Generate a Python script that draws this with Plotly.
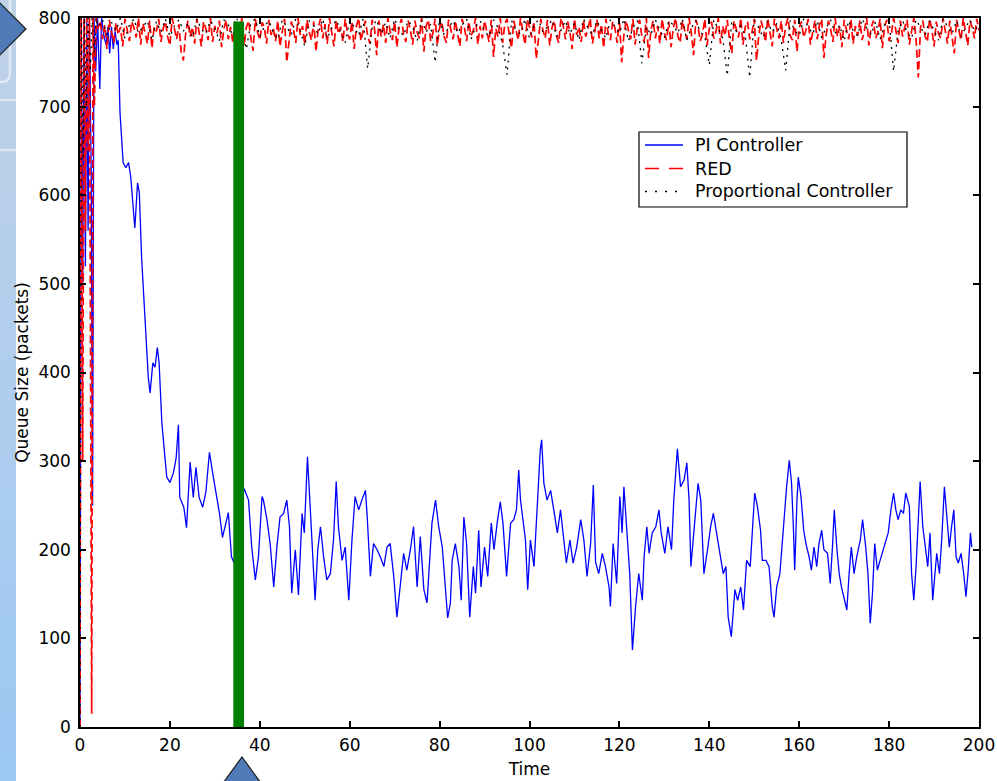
import numpy as np
import plotly.graph_objects as go

# ---------------------------------------------------------------------------
# Queue length (packets) versus simulation time (s)
# ---------------------------------------------------------------------------

# PI controller
pi_time = [
    0, 0.3, 0.6, 0.9, 1.2, 1.5, 1.8, 2.1, 2.5, 2.8,
    3.1, 3.5, 3.9, 4.4, 4.8, 5.3, 5.8, 6.2, 6.6, 7.0,
    7.4, 7.8, 8.2, 8.5,
    8.9, 9.3, 9.6, 10.2, 10.8, 11.3, 11.9, 12.2, 12.8, 13.2,
    13.7, 14.2, 14.7, 15.2, 15.6, 16.2, 16.7, 17.2, 17.6, 18.2,
    18.9, 19.3, 20.0, 20.8, 21.4, 21.9, 22.2, 23.1, 23.7, 24.5,
    25.2, 25.8, 26.5, 27.3, 28.0, 28.8, 29.5, 30.3, 31.0, 31.7,
    32.5, 33.0, 33.7, 34.3, 35.0, 35.8, 36.5,
    37.5, 38.2, 39.0, 39.7, 40.5, 40.8, 41.6, 42.3, 43.1, 43.8,
    44.5, 45.3, 46.0, 46.6, 47.1, 47.9, 48.6, 49.4, 49.9, 50.6,
    51.2, 52.0, 52.3, 52.9, 53.5, 54.2, 54.9, 55.7, 56.4, 57.0,
    57.5, 58.3, 59.0, 59.8, 60.5, 61.2, 62.0, 62.7, 63.5, 63.9,
    64.6, 65.3, 66.1, 66.8, 67.6, 68.3, 69.0, 69.8, 70.5, 71.3,
    72.0, 72.7, 73.5, 74.2,
    75.0, 75.7, 76.5, 77.2, 78.0, 78.3, 79.1, 79.8, 80.6, 81.3,
    81.8, 82.4, 82.8, 83.5, 84.3, 84.8, 85.4, 86.0, 86.7, 87.5,
    88.0, 88.7, 89.2, 90.0, 90.7, 91.5, 92.1, 92.8, 93.5, 94.1,
    94.9, 95.8, 96.5, 97.1, 97.6, 98.0, 98.6, 99.1, 99.6, 100.2,
    101.0, 101.8, 102.4, 102.7, 103.2, 103.9, 104.7, 105.4, 106.2, 106.9,
    107.6, 108.2, 109.0, 109.7, 110.5, 111.4, 112.1, 112.8, 113.6, 114.2,
    114.7,
    115.4, 116.2, 116.9, 117.7, 118.0, 118.6, 119.4, 120.1, 120.6, 121.0,
    121.6, 122.3, 122.9, 123.6, 124.3, 125.1, 125.5, 126.1, 126.6, 127.3,
    128.1, 128.8, 129.3, 130.1, 130.8, 131.6, 132.1, 132.9, 133.6, 134.4,
    135.0, 135.5, 135.9, 136.6, 137.5, 138.1, 138.8, 139.6, 140.3, 140.9,
    141.6, 142.4, 143.1, 143.7, 144.2, 144.9, 145.7, 146.3, 147.0, 147.6,
    148.3, 149.1, 149.6, 150.1, 150.7, 151.4, 151.8, 152.6, 153.3, 154.0,
    154.4, 155.0, 155.7,
    156.6, 157.2, 157.8, 158.3, 158.7, 159.0, 159.5, 159.8, 160.4, 161.0,
    161.5, 162.2, 162.7, 163.3, 163.9, 164.4, 165.0, 165.5, 166.3, 166.9,
    167.4, 167.8, 168.4, 168.9, 169.4, 170.0, 170.6, 171.1, 171.6, 172.2,
    172.8, 173.6, 174.1, 174.8, 175.3, 175.8, 176.3, 176.8, 177.4, 178.0,
    178.5, 179.3, 179.8, 180.4, 181.0, 181.5, 182.0, 182.6, 183.2, 183.7,
    184.5, 185.0, 185.5, 186.0, 186.5, 186.9, 187.5, 188.0, 188.6, 189.1,
    189.7, 190.2, 190.6, 191.2, 191.7, 192.3, 192.9, 193.4, 193.9, 194.4,
    194.9, 195.4, 196.0, 196.6, 197.1, 197.6, 198.1, 198.4,
]
pi_queue = [
    0, 800, 500, 800, 520, 800, 560, 800, 620, 250,
    800, 740, 800, 720, 800, 780, 770, 790, 760, 790,
    765, 785, 770, 775,
    693, 659, 637, 631, 637, 620, 580, 563, 614, 603,
    530, 485, 439, 394, 377, 411, 406, 428, 411, 344,
    304, 282, 276, 287, 304, 341, 259, 248, 225, 299,
    259, 293, 259, 248, 265, 310, 287, 265, 242, 214,
    231, 242, 192, 185, 230, 250, 269,
    256, 203, 166, 192, 260, 256, 234, 207, 158, 203,
    237, 241, 256, 226, 151, 200, 149, 241, 219, 305,
    249, 166, 143, 200, 226, 192, 166, 173, 211, 277,
    226, 188, 203, 143, 211, 260, 245, 256, 267, 237,
    170, 207, 200, 192, 181, 203, 207, 170, 124, 162,
    196, 177, 200, 226,
    158, 215, 155, 140, 203, 230, 256, 226, 203, 155,
    123, 140, 188, 207, 181, 143, 237, 207, 124, 181,
    151, 222, 158, 203, 170, 230, 200, 230, 254, 230,
    170, 230, 234, 245, 290, 256, 234, 211, 155, 211,
    181, 249, 313, 324, 275, 256, 267, 245, 219, 245,
    211, 185, 211, 185, 203, 234, 211, 170, 207, 273,
    186,
    173, 196, 181, 158, 136, 207, 162, 260, 219, 271,
    226, 173, 87, 136, 173, 143, 192, 226, 196, 219,
    226, 245, 219, 196, 226, 200, 256, 314, 271, 279,
    298, 256, 181, 226, 275, 256, 173, 200, 226, 241,
    219, 196, 173, 181, 124, 102, 155, 143, 158, 132,
    188, 181, 226, 264, 249, 222, 188, 188, 181, 136,
    124, 158, 173,
    237, 271, 301, 275, 226, 177, 256, 282, 260, 222,
    207, 192, 177, 203, 181, 207, 222, 200, 196, 162,
    203, 245, 200, 173, 158, 143, 132, 173, 203, 173,
    192, 211, 234, 203, 173, 117, 151, 207, 177, 188,
    196, 211, 219, 245, 264, 245, 234, 245, 241, 264,
    249, 173, 143, 181, 230, 277, 226, 203, 181, 219,
    143, 173, 196, 173, 211, 271, 234, 203, 226, 245,
    192, 185, 196, 173, 147, 177, 219, 203,
]

# RED: start-up transient, then one sample every 0.5 s from t = 4 s
red_start_time = [0, 0.25, 0.6, 0.9, 1.2, 1.5, 1.8, 2.1, 2.6, 2.9, 3.2, 3.6]
red_start_queue = [0, 800, 300, 800, 560, 800, 650, 800, 15, 800, 700, 800]
RED_T0, RED_DT = 4.0, 0.5
red_queue = [
    788, 797, 776, 792, 765, 798, 784, 772, 795, 781, 790, 768, 799, 786, 774, 796, 789, 778, 800, 770,
    794, 783, 771, 797, 766, 790, 785, 799, 773, 788, 796, 779, 769, 800, 787, 776, 793, 762, 752, 782,
    797, 779, 790, 771, 799, 784, 768, 796, 788, 775, 800, 773, 791, 783, 797, 767, 787, 798, 776, 790,
    772, 796, 786, 779, 800, 769, 789, 797, 778, 763, 799, 784, 775, 795, 790, 771, 798, 781, 788, 774,
    797, 768, 785, 799, 750, 777, 796, 787, 772, 800, 781, 791, 770, 798, 784, 775, 796, 762, 789, 799,
    777, 793, 771, 800, 786, 768, 797, 782, 790, 773, 799, 783, 776, 796, 765, 791, 800, 774, 786, 797,
    780, 771, 798, 789, 758, 797, 779, 793, 772, 800, 785, 775, 796, 767, 790, 799, 782, 773, 797, 787,
    770, 797, 784, 777, 800, 762, 791, 798, 774, 783, 799, 769, 789, 796, 779, 772, 798, 786, 776, 797,
    783, 768, 799, 790, 774, 796, 780, 786, 800, 770, 791, 777, 797, 783, 773, 798, 756, 788, 779, 800,
    772, 793, 799, 781, 766, 797, 786, 775, 800, 783, 770, 798, 790, 778, 796, 754, 775, 799, 786, 777,
    798, 769, 789, 797, 780, 772, 800, 791, 776, 796, 784, 765, 799, 781, 790, 773, 797, 779, 787, 800,
    771, 786, 798, 777, 793, 766, 799, 783, 775, 796, 789, 772, 800, 750, 781, 797, 786, 776, 799, 770,
    790, 798, 779, 773, 800, 755, 786, 797, 777, 791, 771, 799, 783, 775, 796, 767, 789, 800, 780, 772,
    797, 786, 776, 800, 783, 758, 798, 790, 774, 782, 799, 769, 788, 796, 777, 785, 800, 771, 791, 780,
    798, 775, 760, 797, 786, 778, 800, 770, 790, 796, 776, 784, 799, 752, 780, 797, 788, 773, 800, 781,
    768, 799, 787, 777, 797, 772, 791, 800, 780, 775, 798, 762, 789, 796, 778, 786, 799, 770, 784, 797,
    776, 792, 799, 755, 781, 797, 787, 773, 800, 779, 790, 767, 798, 785, 776, 799, 771, 791, 780, 797,
    775, 786, 800, 769, 789, 797, 777, 784, 799, 766, 791, 798, 774, 782, 800, 786, 772, 797, 779, 790,
    798, 770, 784, 800, 776, 733, 790, 797, 780, 773, 799, 788, 768, 796, 782, 777, 800, 785, 771, 797,
    779, 760, 798, 786, 775, 800, 783, 769, 797, 789, 777, 799, 786,
]

# Proportional controller: start-up transient, then one sample every 1 s from t = 4 s
prop_start_time = [0, 0.3, 0.7, 1.0, 1.4, 1.8, 2.3, 2.7, 3.2, 3.6]
prop_start_queue = [0, 800, 640, 800, 700, 800, 740, 800, 760, 800]
PROP_T0, PROP_DT = 4.0, 1.0
prop_queue = [
    790, 798, 781, 795, 786, 800, 777, 792, 799, 783, 790, 797, 775, 796, 784, 799, 779, 791, 798, 785,
    794, 778, 799, 787, 782, 797, 789, 774, 798, 792, 780, 799, 786, 765, 794, 799, 779, 790, 797, 784,
    776, 798, 790, 781, 799, 786, 768, 797, 791, 782, 799, 777, 789, 798, 785, 772, 797, 790, 780, 799,
    743, 789, 798, 782, 795, 777, 799, 786, 780, 797, 790, 774, 798, 784, 793, 750, 799, 781, 789, 797,
    783, 792, 799, 776, 790, 797, 785, 779, 798, 789, 771, 736, 797, 786, 782, 799, 777, 792, 798, 784,
    790, 798, 779, 786, 797, 782, 794, 775, 799, 789, 781, 797, 786, 777, 798, 791, 783, 799, 774, 789,
    797, 749, 790, 781, 798, 786, 777, 797, 792, 783, 799, 775, 789, 797, 784, 780, 747, 798, 788, 777,
    735, 797, 785, 791, 780, 733, 798, 789, 778, 796, 784, 794, 775, 741, 797, 786, 780, 799, 790, 782,
    797, 778, 789, 798, 783, 792, 774, 797, 786, 780, 799, 789, 781, 796, 776, 792, 798, 740, 786, 797,
    784, 777, 798, 790, 781, 797, 786, 775, 799, 791, 782, 797, 779, 789, 798, 785, 793,
]

x_ticks = [0, 20, 40, 60, 80, 100, 120, 140, 160, 180, 200]
y_ticks = [0, 100, 200, 300, 400, 500, 600, 700, 800]

series_names = ["PI Controller", "RED", "Proportional Controller"]
series_colors = ["#0000ff", "#ff0000", "#000000"]

# Highlighted time window (vertical marker bar)
highlight_t = (34.1, 36.5)
highlight_top = 796

red_time = red_start_time + list(RED_T0 + RED_DT * np.arange(len(red_queue)))
prop_time = prop_start_time + list(PROP_T0 + PROP_DT * np.arange(len(prop_queue)))

# ---------------------------------------------------------------------------
W, H = 997, 781
ML, MR, MT, MB = 80, 18, 18, 54
FONT = "DejaVu Sans"


def fx(px):
    """page pixel column -> paper x"""
    return (px - ML) / (W - ML - MR)


def fy(py):
    """page pixel row -> paper y"""
    return (H - MB - py) / (H - MT - MB)


line_styles = [
    dict(color=series_colors[0], width=1.3),
    dict(color=series_colors[1], width=1.7, dash="8px,4px"),
    dict(color=series_colors[2], width=1.3, dash="2px,5px"),
]

fig = go.Figure()
fig.add_trace(go.Scatter(x=pi_time, y=pi_queue, mode="lines",
                         name=series_names[0], line=line_styles[0], showlegend=False))
fig.add_trace(go.Scatter(x=red_time, y=red_start_queue + red_queue, mode="lines",
                         name=series_names[1], line=line_styles[1], showlegend=False))
fig.add_trace(go.Scatter(x=prop_time, y=prop_start_queue + prop_queue, mode="lines",
                         name=series_names[2], line=line_styles[2], showlegend=False))

shapes = []
annotations = []

# slide side strip: vertical blue gradient
n_bands = 24
top_rgb = np.array([192, 210, 232])
bot_rgb = np.array([158, 201, 243])
for i in range(n_bands):
    c = top_rgb + (bot_rgb - top_rgb) * i / (n_bands - 1)
    y0 = H * i / n_bands
    y1 = H * (i + 1) / n_bands + 1
    shapes.append(dict(
        type="rect", xref="paper", yref="paper", layer="below",
        x0=fx(-2), x1=fx(16), y0=fy(y1), y1=fy(y0),
        fillcolor="rgb(%d,%d,%d)" % tuple(int(v) for v in c), line_width=0,
    ))
# pale outline decoration on the strip
shapes.append(dict(
    type="path", xref="paper", yref="paper", layer="below",
    path="M%f,%f L%f,%f Q%f,%f %f,%f L%f,%f" % (
        fx(10), fy(0), fx(10), fy(72), fx(10), fy(82), fx(2), fy(82), fx(-2), fy(82)),
    line=dict(color="rgba(255,255,255,0.55)", width=2.5),
))
for yy in (100, 150):
    shapes.append(dict(
        type="line", xref="paper", yref="paper", layer="below",
        x0=fx(-2), x1=fx(16), y0=fy(yy), y1=fy(yy),
        line=dict(color="rgba(255,255,255,0.45)", width=2.5),
    ))

# vertical marker bar
shapes.append(dict(
    type="rect", xref="x", yref="y", layer="above",
    x0=highlight_t[0], x1=highlight_t[1], y0=0, y1=highlight_top,
    fillcolor="#008000", line_width=0,
))

# navigation arrows
arrow_fill = "#4f7cb8"
shapes.append(dict(
    type="path", xref="paper", yref="paper", layer="above",
    path="M%f,%f L%f,%f L%f,%f Z" % (fx(-4), fy(-1), fx(26), fy(29), fx(-4), fy(59)),
    fillcolor=arrow_fill, line=dict(color="#1a1a1a", width=1.2),
))
shapes.append(dict(
    type="path", xref="paper", yref="paper", layer="above",
    path="M%f,%f L%f,%f L%f,%f Z" % (fx(242), fy(757), fx(266), fy(790), fx(218), fy(790)),
    fillcolor=arrow_fill, line=dict(color="#1a1a1a", width=1.2),
))

# legend box (boxed, upper right of the axes)
LEG_L, LEG_R, LEG_T, LEG_B = 639, 907, 132, 207
shapes.append(dict(
    type="rect", xref="paper", yref="paper", layer="above",
    x0=fx(LEG_L), x1=fx(LEG_R), y0=fy(LEG_B), y1=fy(LEG_T),
    fillcolor="white", line=dict(color="black", width=1.2),
))
legend_rows = [145, 168.5, 191.5]
legend_dash = [None, "14px,10px", "2px,8px"]
for name, style, dash, ry in zip(series_names, line_styles, legend_dash, legend_rows):
    ls = dict(color=style["color"], width=style["width"])
    if dash:
        ls["dash"] = dash
    shapes.append(dict(
        type="line", xref="paper", yref="paper", layer="above",
        x0=fx(645), x1=fx(683), y0=fy(ry), y1=fy(ry), line=ls,
    ))
    annotations.append(dict(
        xref="paper", yref="paper", x=fx(693), y=fy(ry),
        xanchor="left", yanchor="middle", showarrow=False, text=name,
        font=dict(family=FONT, size=17.5, color="black"),
    ))

axis_common = dict(
    showline=True, mirror="ticks", linecolor="black", linewidth=1.5,
    ticks="inside", ticklen=6, tickwidth=1.5, tickcolor="black",
    showgrid=False, zeroline=False, automargin=False,
    tickfont=dict(family=FONT, size=17, color="black"),
)

fig.update_layout(
    width=W, height=H, autosize=False,
    margin=dict(l=ML, r=MR, t=MT, b=MB, pad=0),
    paper_bgcolor="white", plot_bgcolor="white",
    font=dict(family=FONT, size=17, color="black"),
    xaxis=dict(
        range=[0, 200], tickvals=x_ticks, ticklabelstandoff=2,
        title=dict(text="Time", font=dict(family=FONT, size=17), standoff=9),
        **axis_common,
    ),
    yaxis=dict(
        range=[0, 800], tickvals=y_ticks, ticklabelstandoff=4,
        title=dict(text="Queue Size (packets)", font=dict(family=FONT, size=17), standoff=5),
        **axis_common,
    ),
    showlegend=False,
    shapes=shapes,
    annotations=annotations,
)

fig.write_html("out.html", config={"displayModeBar": False})
